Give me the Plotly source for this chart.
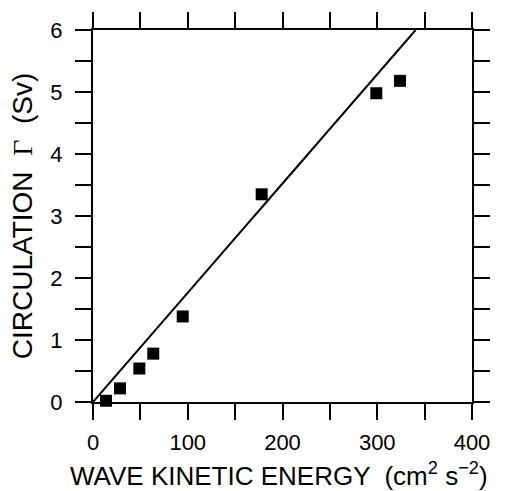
import plotly.graph_objects as go

# data
energy = [13.7, 28.5, 48.9, 63.6, 94.7, 178, 299, 324]
circulation = [0.02, 0.22, 0.54, 0.78, 1.38, 3.35, 4.98, 5.18]
fit_x = [0, 340.5]
fit_y = [0, 6]

x_tickvals = [0, 100, 200, 300, 400]
x_ticktext = ["0", "100", "200", "300", "400"]
x_minor_vals = [50, 150, 250, 350]
y_tickvals = [0, 1, 2, 3, 4, 5, 6]
y_ticktext = ["0", "1", "2", "3", "4", "5", "6"]
y_minor_vals = [0.5, 1.5, 2.5, 3.5, 4.5, 5.5]

FONT = "Liberation Sans, Arial, sans-serif"

fig = go.Figure()
fig.add_trace(go.Scatter(x=fit_x, y=fit_y, mode="lines",
                         line=dict(color="black", width=2), cliponaxis=False,
                         showlegend=False))
fig.add_trace(go.Scatter(x=energy, y=circulation, mode="markers",
                         marker=dict(symbol="square", size=12, color="black"),
                         cliponaxis=False, showlegend=False))

axis_common = dict(showgrid=False, zeroline=False, showline=True, linecolor="black",
                   linewidth=2, mirror="ticks", ticks="outside", ticklen=16,
                   tickwidth=1.5, tickcolor="black",
                   tickfont=dict(family=FONT, size=22, color="black"))

fig.update_xaxes(range=[0, 400], tickmode="array", tickvals=x_tickvals,
                 ticktext=x_ticktext, ticklabelstandoff=4,
                 minor=dict(tickmode="array", tickvals=x_minor_vals, ticks="outside",
                            ticklen=16, tickwidth=1.5, tickcolor="black", showgrid=False),
                 **axis_common)
fig.update_yaxes(range=[0, 6], tickmode="array", tickvals=y_tickvals,
                 ticktext=y_ticktext, ticklabelstandoff=8,
                 minor=dict(tickmode="array", tickvals=y_minor_vals, ticks="outside",
                            ticklen=16, tickwidth=1.5, tickcolor="black", showgrid=False),
                 **axis_common)

fig.add_annotation(text="WAVE KINETIC ENERGY  (cm<sup>2</sup> s<sup>\u22122</sup>)",
                   xref="paper", yref="paper", x=0.49, y=-0.146,
                   xanchor="center", yanchor="top", showarrow=False,
                   font=dict(family=FONT, size=26, color="black"))
fig.add_annotation(text="CIRCULATION  <span style=\"font-family:Liberation Serif\">\u0393</span>  (Sv)",
                   xref="paper", yref="paper", x=-0.187, y=0.5,
                   xanchor="center", yanchor="middle", textangle=-90, showarrow=False,
                   font=dict(family=FONT, size=28, color="black"))

fig.update_layout(width=516, height=491, margin=dict(l=93, r=44, t=24, b=89),
                  plot_bgcolor="white", paper_bgcolor="white")
fig.write_html("out.html")
